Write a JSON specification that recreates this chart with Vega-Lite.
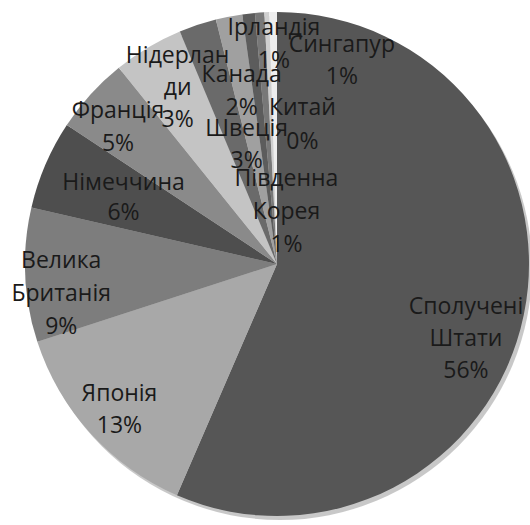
{
  "$schema": "https://vega.github.io/schema/vega-lite/v6.json",
  "autosize": {"type": "none"},
  "width": 504,
  "height": 504,
  "padding": {"left": 25, "top": 12, "right": 1, "bottom": 9},
  "background": "white",
  "config": {"view": {"stroke": null}},
  "data": {"values": [
    {"idx": 1, "country": "Сполучені Штати", "value": 56.5, "label": "Сполучені\nШтати\n56%"},
    {"idx": 2, "country": "Японія", "value": 13.5, "label": "Японія\n13%"},
    {"idx": 3, "country": "Велика Британія", "value": 8.6, "label": "Велика\nБританія\n9%"},
    {"idx": 4, "country": "Німеччина", "value": 5.7, "label": "Німеччина\n6%"},
    {"idx": 5, "country": "Франція", "value": 4.9, "label": "Франція\n5%"},
    {"idx": 6, "country": "Нідерланди", "value": 4.5, "label": "Нідерлан\nди\n3%"},
    {"idx": 7, "country": "Швеція", "value": 2.4, "label": "Швеція\n3%"},
    {"idx": 8, "country": "Канада", "value": 1.7, "label": "Канада\n2%"},
    {"idx": 9, "country": "Ірландія", "value": 0.8, "label": "Ірландія\n1%"},
    {"idx": 10, "country": "Південна Корея", "value": 0.6, "label": "Південна\nКорея\n1%"},
    {"idx": 11, "country": "Китай", "value": 0.3, "label": "Китай\n0%"},
    {"idx": 12, "country": "Сингапур", "value": 0.5, "label": "Сингапур\n1%"}
  ]},
  "layer": [
    {
      "transform": [{"aggregate": [{"op": "count", "as": "n"}]}],
      "mark": {"type": "arc", "theta": 0, "theta2": 6.2832, "radius": 252, "fill": "#9a9a9a", "opacity": 0.55, "xOffset": 3, "yOffset": 4},
      "encoding": {}
    },
    {
      "encoding": {
        "theta": {"field": "value", "type": "quantitative", "stack": true},
        "order": {"field": "idx", "type": "quantitative"},
        "color": {
          "field": "country", "type": "nominal", "legend": null,
          "scale": {
            "domain": ["Сполучені Штати", "Японія", "Велика Британія", "Німеччина", "Франція", "Нідерланди", "Швеція", "Канада", "Ірландія", "Південна Корея", "Китай", "Сингапур"],
            "range": ["#565656", "#a8a8a8", "#7d7d7d", "#4e4e4e", "#8a8a8a", "#c4c4c4", "#6a6a6a", "#a0a0a0", "#5c5c5c", "#787878", "#cfcfcf", "#eeeeee"]
          }
        }
      },
      "layer": [
        {"mark": {"type": "arc", "radius": 252}},
        {"mark": {"type": "text", "radius": 194, "dx": -1, "dy": 4, "font": "Open Sans", "fontSize": 23, "lineHeight": 32, "lineBreak": "\n", "align": "center", "baseline": "middle"},
         "encoding": {"color": {"value": "#1a1a1a"}, "detail": {"field": "country"}, "text": {"condition": {"test": "datum.idx == 1", "field": "label"}, "value": ""}}},
        {"mark": {"type": "text", "radius": 213, "dx": 0, "dy": -13, "font": "Open Sans", "fontSize": 23, "lineHeight": 32, "lineBreak": "\n", "align": "center", "baseline": "middle"},
         "encoding": {"color": {"value": "#1a1a1a"}, "detail": {"field": "country"}, "text": {"condition": {"test": "datum.idx == 2", "field": "label"}, "value": ""}}},
        {"mark": {"type": "text", "radius": 215, "dx": -1, "dy": -12, "font": "Open Sans", "fontSize": 23, "lineHeight": 33, "lineBreak": "\n", "align": "center", "baseline": "middle"},
         "encoding": {"color": {"value": "#1a1a1a"}, "detail": {"field": "country"}, "text": {"condition": {"test": "datum.idx == 3", "field": "label"}, "value": ""}}},
        {"mark": {"type": "text", "radius": 167, "dx": 0, "dy": -15, "font": "Open Sans", "fontSize": 23, "lineHeight": 30, "lineBreak": "\n", "align": "center", "baseline": "middle"},
         "encoding": {"color": {"value": "#1a1a1a"}, "detail": {"field": "country"}, "text": {"condition": {"test": "datum.idx == 4", "field": "label"}, "value": ""}}},
        {"mark": {"type": "text", "radius": 215, "dx": 0, "dy": -8, "font": "Open Sans", "fontSize": 23, "lineHeight": 33, "lineBreak": "\n", "align": "center", "baseline": "middle"},
         "encoding": {"color": {"value": "#1a1a1a"}, "detail": {"field": "country"}, "text": {"condition": {"test": "datum.idx == 5", "field": "label"}, "value": ""}}},
        {"mark": {"type": "text", "radius": 204, "dx": 5, "dy": -33, "font": "Open Sans", "fontSize": 23, "lineHeight": 32, "lineBreak": "\n", "align": "center", "baseline": "middle"},
         "encoding": {"color": {"value": "#1a1a1a"}, "detail": {"field": "country"}, "text": {"condition": {"test": "datum.idx == 6", "field": "label"}, "value": ""}}},
        {"mark": {"type": "text", "radius": 122, "dx": 8, "dy": -19, "font": "Open Sans", "fontSize": 23, "lineHeight": 32, "lineBreak": "\n", "align": "center", "baseline": "middle"},
         "encoding": {"color": {"value": "#1a1a1a"}, "detail": {"field": "country"}, "text": {"condition": {"test": "datum.idx == 7", "field": "label"}, "value": ""}}},
        {"mark": {"type": "text", "radius": 175, "dx": -2, "dy": -17, "font": "Open Sans", "fontSize": 23, "lineHeight": 33, "lineBreak": "\n", "align": "center", "baseline": "middle"},
         "encoding": {"color": {"value": "#1a1a1a"}, "detail": {"field": "country"}, "text": {"condition": {"test": "datum.idx == 8", "field": "label"}, "value": ""}}},
        {"mark": {"type": "text", "radius": 222, "dx": 22, "dy": -15, "font": "Open Sans", "fontSize": 23, "lineHeight": 33, "lineBreak": "\n", "align": "center", "baseline": "middle"},
         "encoding": {"color": {"value": "#1a1a1a"}, "detail": {"field": "country"}, "text": {"condition": {"test": "datum.idx == 9", "field": "label"}, "value": ""}}},
        {"mark": {"type": "text", "radius": 51, "dx": 13, "dy": -34, "font": "Open Sans", "fontSize": 23, "lineHeight": 33, "lineBreak": "\n", "align": "center", "baseline": "middle"},
         "encoding": {"color": {"value": "#1a1a1a"}, "detail": {"field": "country"}, "text": {"condition": {"test": "datum.idx == 10", "field": "label"}, "value": ""}}},
        {"mark": {"type": "text", "radius": 137, "dx": 31, "dy": -19, "font": "Open Sans", "fontSize": 23, "lineHeight": 34, "lineBreak": "\n", "align": "center", "baseline": "middle"},
         "encoding": {"color": {"value": "#1a1a1a"}, "detail": {"field": "country"}, "text": {"condition": {"test": "datum.idx == 11", "field": "label"}, "value": ""}}},
        {"mark": {"type": "text", "radius": 201, "dx": 68, "dy": -18, "font": "Open Sans", "fontSize": 23, "lineHeight": 32, "lineBreak": "\n", "align": "center", "baseline": "middle"},
         "encoding": {"color": {"value": "#1a1a1a"}, "detail": {"field": "country"}, "text": {"condition": {"test": "datum.idx == 12", "field": "label"}, "value": ""}}}
      ]
    }
  ]
}
